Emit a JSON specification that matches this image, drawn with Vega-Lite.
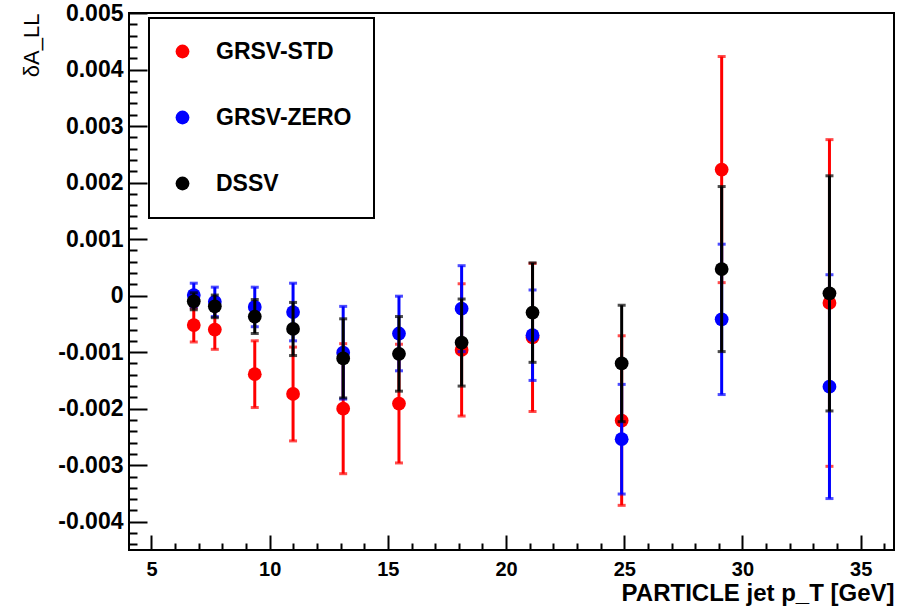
{
  "$schema": "https://vega.github.io/schema/vega-lite/v6.json",
  "width": 765,
  "height": 537,
  "autosize": {"type": "none"},
  "padding": {"left": 129, "top": 13, "right": 13, "bottom": 59},
  "background": "white",
  "config": {
    "view": {"stroke": "black", "strokeWidth": 2},
    "font": "Liberation Sans",
    "axis": {
      "domain": false,
      "grid": false,
      "tickColor": "black",
      "tickWidth": 2,
      "labelColor": "black",
      "labelFont": "Liberation Sans",
      "labelFontWeight": "bold",
      "labelOverlap": false,
      "labelFlush": false,
      "labelBound": false,
      "titleColor": "black",
      "titleFont": "Liberation Sans"
    },
    "legend": {
      "orient": "none",
      "legendX": 20,
      "legendY": 5,
      "strokeColor": "black",
      "strokeWidth": 2,
      "fillColor": "white",
      "cornerRadius": 0,
      "padding": 22,
      "rowPadding": 42,
      "labelFont": "Liberation Sans",
      "labelFontWeight": "bold",
      "labelFontSize": 23,
      "labelColor": "black",
      "labelOffset": 22,
      "symbolType": "circle",
      "symbolSize": 190,
      "symbolStrokeWidth": 0,
      "title": null
    }
  },
  "data": {
    "values": [
      {"s": "GRSV-STD", "pt": 6.79, "v": -0.00052, "err": 0.0003},
      {"s": "GRSV-STD", "pt": 7.68, "v": -0.0006, "err": 0.00035},
      {"s": "GRSV-STD", "pt": 9.37, "v": -0.00139, "err": 0.00059},
      {"s": "GRSV-STD", "pt": 10.99, "v": -0.00174, "err": 0.00083},
      {"s": "GRSV-STD", "pt": 13.11, "v": -0.002, "err": 0.00115},
      {"s": "GRSV-STD", "pt": 15.47, "v": -0.00191, "err": 0.00105},
      {"s": "GRSV-STD", "pt": 18.12, "v": -0.00096, "err": 0.00117},
      {"s": "GRSV-STD", "pt": 21.12, "v": -0.00074, "err": 0.00131},
      {"s": "GRSV-STD", "pt": 24.89, "v": -0.00221, "err": 0.0015},
      {"s": "GRSV-STD", "pt": 29.12, "v": 0.00223, "err": 0.002},
      {"s": "GRSV-STD", "pt": 33.68, "v": -0.00013, "err": 0.00289},
      {"s": "GRSV-ZERO", "pt": 6.79, "v": 0.00001, "err": 0.00021},
      {"s": "GRSV-ZERO", "pt": 7.68, "v": -0.00011, "err": 0.00026},
      {"s": "GRSV-ZERO", "pt": 9.37, "v": -0.0002, "err": 0.00035},
      {"s": "GRSV-ZERO", "pt": 10.99, "v": -0.00029, "err": 0.00051},
      {"s": "GRSV-ZERO", "pt": 13.11, "v": -0.00101, "err": 0.00082},
      {"s": "GRSV-ZERO", "pt": 15.47, "v": -0.00067, "err": 0.00066},
      {"s": "GRSV-ZERO", "pt": 18.12, "v": -0.00023, "err": 0.00076},
      {"s": "GRSV-ZERO", "pt": 21.12, "v": -0.0007, "err": 0.0008},
      {"s": "GRSV-ZERO", "pt": 24.89, "v": -0.00254, "err": 0.00097},
      {"s": "GRSV-ZERO", "pt": 29.12, "v": -0.00042, "err": 0.00133},
      {"s": "GRSV-ZERO", "pt": 33.68, "v": -0.00161, "err": 0.00198},
      {"s": "DSSV", "pt": 6.79, "v": -0.0001, "err": 0.00015},
      {"s": "DSSV", "pt": 7.68, "v": -0.00019, "err": 0.0002},
      {"s": "DSSV", "pt": 9.37, "v": -0.00037, "err": 0.0003},
      {"s": "DSSV", "pt": 10.99, "v": -0.00059, "err": 0.00047},
      {"s": "DSSV", "pt": 13.11, "v": -0.00111, "err": 0.0007},
      {"s": "DSSV", "pt": 15.47, "v": -0.00103, "err": 0.00066},
      {"s": "DSSV", "pt": 18.12, "v": -0.00083, "err": 0.00077},
      {"s": "DSSV", "pt": 21.12, "v": -0.0003, "err": 0.00088},
      {"s": "DSSV", "pt": 24.89, "v": -0.0012, "err": 0.00103},
      {"s": "DSSV", "pt": 29.12, "v": 0.00047, "err": 0.00146},
      {"s": "DSSV", "pt": 33.68, "v": 0.00004, "err": 0.00208}
    ]
  },
  "encoding": {
    "x": {
      "field": "pt",
      "type": "quantitative",
      "scale": {"domain": [4.05, 36.41], "nice": false, "zero": false},
      "axis": {
        "values": [5,6,7,8,9,10,11,12,13,14,15,16,17,18,19,20,21,22,23,24,25,26,27,28,29,30,31,32,33,34,35,36],
        "labelExpr": "datum.value % 5 == 0 ? datum.label : ''",
        "tickSize": {"condition": {"test": "datum.value % 5 == 0", "value": -15}, "value": -7},
        "labelFontSize": 20,
        "labelPadding": 24,
        "title": "PARTICLE jet p_T [GeV]",
        "titleFontSize": 24,
        "titleFontWeight": "bold",
        "titleAnchor": "end",
        "titlePadding": -6
      }
    },
    "y": {
      "field": "v",
      "type": "quantitative",
      "scale": {"domain": [-0.0045, 0.005], "nice": false, "zero": false},
      "axis": {
        "values": [-0.0044,-0.0042,-0.004,-0.0038,-0.0036,-0.0034,-0.0032,-0.003,-0.0028,-0.0026,-0.0024,-0.0022,-0.002,-0.0018,-0.0016,-0.0014,-0.0012,-0.001,-0.0008,-0.0006,-0.0004,-0.0002,0,0.0002,0.0004,0.0006,0.0008,0.001,0.0012,0.0014,0.0016,0.0018,0.002,0.0022,0.0024,0.0026,0.0028,0.003,0.0032,0.0034,0.0036,0.0038,0.004,0.0042,0.0044,0.0046,0.0048,0.005],
        "labelExpr": "abs(datum.value*1000 - round(datum.value*1000)) > 0.000001 ? '' : (abs(datum.value) < 0.0000001 ? '0' : (datum.value < 0 ? '-' + format(-datum.value, '.3f') : format(datum.value, '.3f')))",
        "tickSize": {"condition": {"test": "abs(datum.value*1000 - round(datum.value*1000)) < 0.000001", "value": -18}, "value": -8},
        "labelFontSize": 23,
        "labelPadding": 24,
        "title": "δA_LL",
        "titleFontSize": 22,
        "titleFontWeight": "normal",
        "titleAnchor": "end",
        "titlePadding": 14
      }
    }
  },
  "layer": [
    {
      "transform": [{"filter": "datum.s == 'GRSV-STD'"}],
      "mark": {"type": "errorbar", "color": "#ff0000", "ticks": {"size": 8}, "thickness": 3},
      "encoding": {"yError": {"field": "err"}}
    },
    {
      "transform": [{"filter": "datum.s == 'GRSV-STD'"}],
      "mark": {"type": "point", "filled": true, "size": 190, "opacity": 1, "shape": "circle"},
      "encoding": {"color": {"field": "s", "type": "nominal", "scale": {"domain": ["GRSV-STD", "GRSV-ZERO", "DSSV"], "range": ["#ff0000", "#0000ff", "#000000"]}}}
    },
    {
      "transform": [{"filter": "datum.s == 'GRSV-ZERO'"}],
      "mark": {"type": "errorbar", "color": "#0000ff", "ticks": {"size": 8}, "thickness": 3},
      "encoding": {"yError": {"field": "err"}}
    },
    {
      "transform": [{"filter": "datum.s == 'GRSV-ZERO'"}],
      "mark": {"type": "point", "filled": true, "size": 190, "opacity": 1, "shape": "circle"},
      "encoding": {"color": {"field": "s", "type": "nominal", "scale": {"domain": ["GRSV-STD", "GRSV-ZERO", "DSSV"], "range": ["#ff0000", "#0000ff", "#000000"]}}}
    },
    {
      "transform": [{"filter": "datum.s == 'DSSV'"}],
      "mark": {"type": "errorbar", "color": "#000000", "ticks": {"size": 8}, "thickness": 3},
      "encoding": {"yError": {"field": "err"}}
    },
    {
      "transform": [{"filter": "datum.s == 'DSSV'"}],
      "mark": {"type": "point", "filled": true, "size": 190, "opacity": 1, "shape": "circle"},
      "encoding": {"color": {"field": "s", "type": "nominal", "scale": {"domain": ["GRSV-STD", "GRSV-ZERO", "DSSV"], "range": ["#ff0000", "#0000ff", "#000000"]}}}
    }
  ]
}
